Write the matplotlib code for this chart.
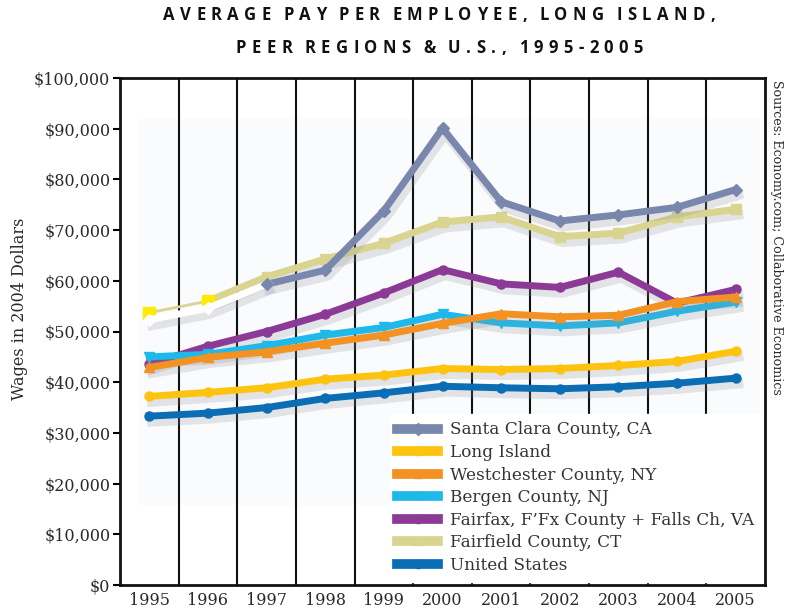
import matplotlib
matplotlib.use("Agg")
import matplotlib.pyplot as plt
import matplotlib.patheffects as pe
from matplotlib.lines import Line2D
from matplotlib.font_manager import FontProperties
import numpy as np

years = ["1995", "1996", "1997", "1998", "1999", "2000", "2001", "2002", "2003", "2004", "2005"]

santa_clara = [52.3, 54.6, 59.3, 62.1, 73.8, 90.1, 75.6, 71.8, 73.0, 74.5, 78.0]
long_island = [37.2, 38.0, 38.9, 40.6, 41.4, 42.7, 42.5, 42.7, 43.3, 44.1, 46.1]
westchester = [42.9, 44.9, 46.0, 47.7, 49.3, 51.6, 53.5, 52.9, 53.2, 55.9, 56.8]
bergen = [45.0, 45.5, 47.2, 49.3, 50.8, 53.4, 51.7, 51.1, 51.7, 54.0, 55.8]
fairfax = [43.6, 47.1, 50.0, 53.4, 57.6, 62.2, 59.4, 58.7, 61.7, 55.6, 58.3]
fairfield = [53.7, 56.0, 60.8, 64.3, 67.4, 71.6, 72.6, 68.7, 69.4, 72.6, 74.1]
united_states = [33.3, 33.9, 35.0, 36.8, 37.9, 39.2, 38.9, 38.7, 39.1, 39.8, 40.8]

labels = ["Santa Clara County, CA", "Long Island", "Westchester County, NY",
          "Bergen County, NJ", "Fairfax, F\u2019Fx County + Falls Ch, VA",
          "Fairfield County, CT", "United States"]
series = [santa_clara, long_island, westchester, bergen, fairfax, fairfield, united_states]
colors = ["#7A87AD", "#FDC30F", "#F39122", "#1DB9EA", "#8B3A95", "#D9D48F", "#0B6DB4"]
markers = ["D", "o", "^", "v", "o", "s", "o"]

title_lines = ["AVERAGE PAY PER EMPLOYEE, LONG ISLAND,", "PEER REGIONS & U.S., 1995-2005"]
source_text = "Sources: Economy.com; Collaborative Economics"

serif = ["DejaVu Serif"]
tcol = "#2a2a2a"

W, H = 792, 613
fig = plt.figure(figsize=(W / 100, H / 100), dpi=100)
ax = fig.add_axes([120 / W, 28 / H, 645 / W, 507 / H])

x = np.arange(len(years))
shadow = [pe.SimpleLineShadow(offset=(2, -4), shadow_color="#8a9098", alpha=0.22, linewidth=7)]

ax.axhspan(16000, 92000, xmin=0.03, xmax=0.99, color="#FAFBFD", zorder=0)

lw = 5
ms = 6.5


def draw(xs, vals, color, marker, z, width=lw, msize=ms, shade=True):
    if shade:
        ax.plot(xs, vals, color=color, lw=width, zorder=z - 0.5,
                path_effects=shadow, alpha=0.0)
    ax.plot(xs, vals, color=color, lw=width, zorder=z)
    if marker:
        ax.plot(xs, vals, ls="none", marker=marker, ms=msize, mfc=color, mec=color, zorder=z + 0.1)


for i in reversed(range(len(series))):
    vals = np.array(series[i], dtype=float) * 1000
    c = colors[i]
    z = 3 + (len(series) - i)
    if labels[i].startswith("Santa"):
        draw(x[:3], vals[:3], "white", "D", z)
        draw(x[2:], vals[2:], c, "D", z)
    elif labels[i].startswith("Fairfield"):
        draw(x[:2], vals[:2], c, None, z, width=2, shade=False)
        draw(x[1:], vals[1:], c, "s", z)
        ax.plot(x[:2], vals[:2], ls="none", marker="s", ms=9,
                mfc="#FFEB00", mec="#FFEB00", zorder=z + 0.5)
    else:
        draw(x, vals, c, markers[i], z)

for b in np.arange(0.5, len(years) - 1, 1.0):
    ax.axvline(b, color="#111111", lw=1.5, zorder=1)

ax.set_xlim(-0.5, len(years) - 0.5)
ax.set_ylim(0, 100000)
ax.set_xticks(x)
ax.set_xticklabels(years, fontsize=11.5, family=serif, color=tcol)
ax.tick_params(axis="x", length=0, pad=5)
yt = np.arange(0, 100001, 10000)
ax.set_yticks(yt)
ax.set_yticklabels(["${:,}".format(v) for v in yt], fontsize=11.5, family=serif, color=tcol)
ax.tick_params(axis="y", length=5, width=1.5, direction="out", pad=2)
for s in ax.spines.values():
    s.set_linewidth(2)
    s.set_color("#111111")

ax.set_ylabel("Wages in 2004 Dollars", fontsize=11.5, family=serif, color=tcol)
ax.yaxis.set_label_coords(-0.142, 0.545)

handles = [Line2D([0], [0], color=colors[i], lw=7, marker=markers[i], ms=6,
                  mfc=colors[i], mec=colors[i]) for i in range(len(series))]
leg = ax.legend(handles, labels, loc="lower right", bbox_to_anchor=(1.0, 0.0),
                frameon=True, facecolor="white", edgecolor="white", framealpha=1,
                prop={"family": serif, "size": 12.2}, handlelength=2.4,
                labelspacing=0.33, borderpad=0.45, handletextpad=0.7, borderaxespad=0.2)
leg.set_zorder(20)
for t in leg.get_texts():
    t.set_color("#333333")

src = fig.text(776 / W, 1 - 80 / H, source_text, rotation=-90,
               ha="center", va="top", fontsize=12, family=serif, color=tcol)

# letter-spaced title, laid out character by character
fig.canvas.draw()
r = fig.canvas.get_renderer()
fp = FontProperties(family="Open Sans", weight="bold", size=12)


def spaced_title(text, x0, target, baseline):
    words = text.split(" ")
    widths = [[r.get_text_width_height_descent(ch, fp, ismath=False)[0] for ch in w] for w in words]
    letters = sum(sum(ws) for ws in widths)
    n_in = sum(len(w) - 1 for w in words)
    n_word = len(words) - 1
    word_k = 2.3
    track = (target - letters) / (n_in + word_k * n_word)
    xp = x0
    for wi, w in enumerate(words):
        for ci, ch in enumerate(w):
            fig.text(xp / W, 1 - baseline / H, ch, fontproperties=fp, color="#111111",
                     ha="left", va="baseline")
            xp += widths[wi][ci]
            if ci < len(w) - 1:
                xp += track
        xp += track * word_k


spaced_title(title_lines[0], 163, 552, 20)
spaced_title(title_lines[1], 236, 407, 53)

bb = src.get_window_extent(r)
src.set_fontsize(src.get_fontsize() * 315 / bb.height)

fig.savefig("out.png", dpi=100)
